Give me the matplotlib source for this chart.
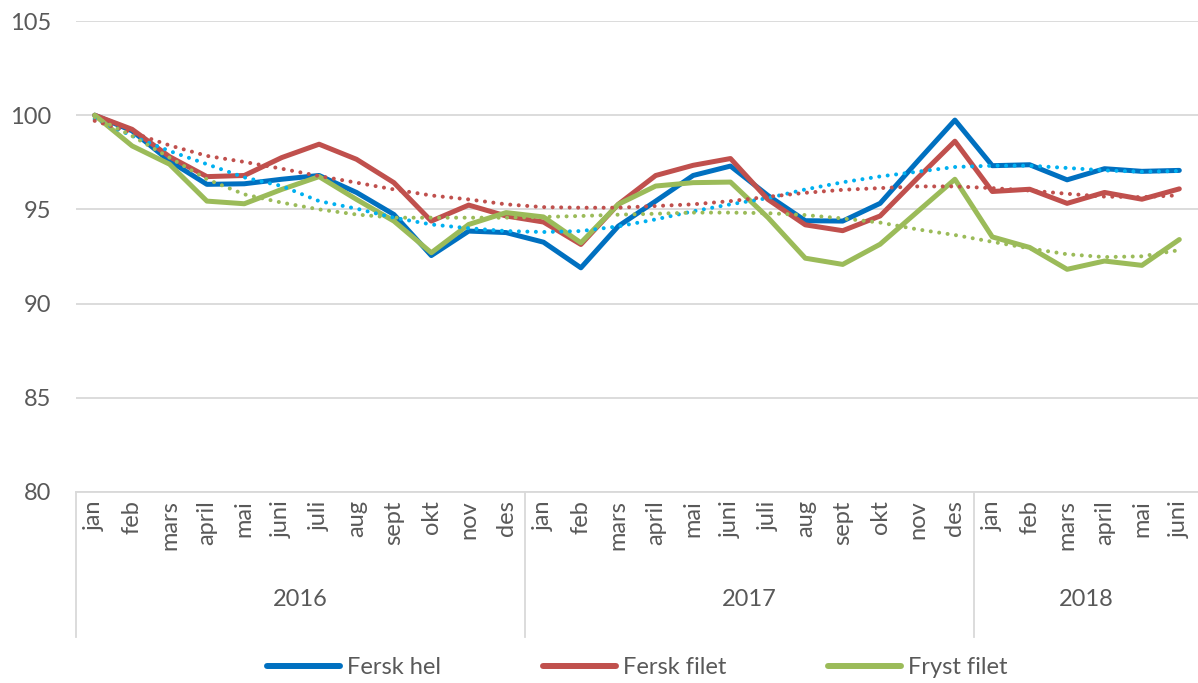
#!/usr/bin/env python3
"""Price index per month, fersk hel / fersk filet / fryst filet, with trend lines."""

import matplotlib
matplotlib.use("Agg")
import matplotlib.pyplot as plt
import matplotlib.transforms as mtransforms

plt.rcParams["font.family"] = ["Lato", "DejaVu Sans"]

years = ["2016", "2017", "2018"]
year_lengths = [12, 12, 6]
months = ["jan", "feb", "mars", "april", "mai", "juni", "juli", "aug", "sept",
          "okt", "nov", "des"]
month_labels = months + months + months[:6]

fersk_hel = [100.0, 99.17, 97.57, 96.33, 96.36, 96.6, 96.8, 95.9, 94.73, 92.55,
             93.85, 93.77, 93.26, 91.9, 94.11, 95.44, 96.8, 97.3, 95.74, 94.4,
             94.38, 95.32, 97.55, 99.74, 97.32, 97.37, 96.57, 97.16, 97.02, 97.07]
fersk_filet = [100.0, 99.25, 97.8, 96.74, 96.8, 97.75, 98.46, 97.66, 96.42, 94.38,
               95.23, 94.65, 94.33, 93.14, 95.27, 96.8, 97.34, 97.7, 95.53, 94.18,
               93.87, 94.65, 96.66, 98.62, 95.95, 96.07, 95.32, 95.9, 95.54, 96.09]
fryst_filet = [100.0, 98.37, 97.4, 95.44, 95.3, 96.06, 96.74, 95.53, 94.38, 92.7,
               94.2, 94.83, 94.6, 93.23, 95.27, 96.24, 96.42, 96.45, 94.57, 92.41,
               92.08, 93.15, 94.88, 96.6, 93.54, 92.98, 91.82, 92.26, 92.03, 93.4]

# dotted trend lines
trend_hel = [99.8, 98.9, 98.1, 97.4, 96.7, 96.24, 95.44, 95.04, 94.56, 94.2,
             94.0, 93.85, 93.8, 93.85, 94.1, 94.47, 94.9, 95.27, 95.6, 96.06,
             96.44, 96.75, 97.0, 97.25, 97.32, 97.32, 97.2, 97.07, 97.0, 97.04]
trend_filet = [99.7, 99.08, 98.4, 97.84, 97.52, 97.16, 96.77, 96.42, 96.06, 95.74,
               95.53, 95.27, 95.12, 95.09, 95.09, 95.18, 95.27, 95.44, 95.67, 95.88,
               96.04, 96.13, 96.22, 96.22, 96.13, 96.0, 95.83, 95.68, 95.65, 95.75]
trend_fryst = [99.9, 98.9, 97.75, 96.6, 95.8, 95.36, 95.0, 94.73, 94.56, 94.56,
               94.56, 94.56, 94.6, 94.65, 94.72, 94.77, 94.83, 94.83, 94.8, 94.7,
               94.52, 94.3, 93.94, 93.64, 93.28, 92.93, 92.62, 92.47, 92.51, 92.84]

yticks = [80, 85, 90, 95, 100, 105]

BLUE = "#0070C0"
RED = "#C0504D"
GREEN = "#9BBB59"
LIGHTBLUE = "#00B0F0"
GRID = "#D9D9D9"
TEXT = "#595959"
FS = 17

W, H = 1198, 683
fig = plt.figure(figsize=(W / 100, H / 100), dpi=100)
ax = fig.add_axes([76 / W, (H - 492) / H, (W - 76) / W, (492 - 21) / H])

x = list(range(len(month_labels)))

ax.plot(x, fersk_hel, color=BLUE, lw=3.6, label="Fersk hel", zorder=3,
        solid_capstyle="round", solid_joinstyle="round")
ax.plot(x, fersk_filet, color=RED, lw=3.6, label="Fersk filet", zorder=3,
        solid_capstyle="round", solid_joinstyle="round")
ax.plot(x, fryst_filet, color=GREEN, lw=3.6, label="Fryst filet", zorder=3,
        solid_capstyle="round", solid_joinstyle="round")

dots = (0, (0.01, 2.1))
for trend, c in [(trend_hel, LIGHTBLUE), (trend_filet, RED), (trend_fryst, GREEN)]:
    ax.plot(x, trend, color=c, lw=2.9, linestyle=dots, dash_capstyle="round",
            zorder=4)

ax.set_xlim(-0.5, len(x) - 0.5)
ax.set_ylim(80, 105)
ax.set_yticks(yticks)
ax.set_yticklabels([str(v) for v in yticks], fontsize=FS, color=TEXT)
ax.yaxis.grid(True, color=GRID, lw=1.3)
ax.set_axisbelow(True)
ax.tick_params(axis="y", length=0, pad=18)

ax.set_xticks(x)
ax.set_xticklabels(month_labels, rotation=90, fontsize=FS, color=TEXT,
                   va="top")
ax.tick_params(axis="x", length=0, pad=6)

for side in ["top", "right", "left"]:
    ax.spines[side].set_visible(False)
ax.spines["bottom"].set_color(GRID)
ax.spines["bottom"].set_linewidth(1.3)

# year groups below the month labels
trans = mtransforms.blended_transform_factory(ax.transData, ax.transAxes)
sep_bottom = -(637 - 492) / (492 - 21)
start = 0
for yr, n in zip(years, year_lengths):
    ax.plot([start - 0.5, start - 0.5], [0, sep_bottom], color=GRID, lw=1.3,
            transform=trans, clip_on=False)
    ax.text(start + (n - 1) / 2, -(599 - 492) / (492 - 21), yr, transform=trans,
            ha="center", va="center", fontsize=FS, color=TEXT)
    start += n

leg = fig.legend(loc="center", bbox_to_anchor=(0.532, 1 - 668 / H), ncol=3,
                 frameon=False, fontsize=FS, handlelength=3.1,
                 handletextpad=0.3, columnspacing=4.3, labelcolor=TEXT)
for line in leg.get_lines():
    line.set_linewidth(4.3)
    line.set_solid_capstyle("round")

fig.savefig("out.png", dpi=100)
